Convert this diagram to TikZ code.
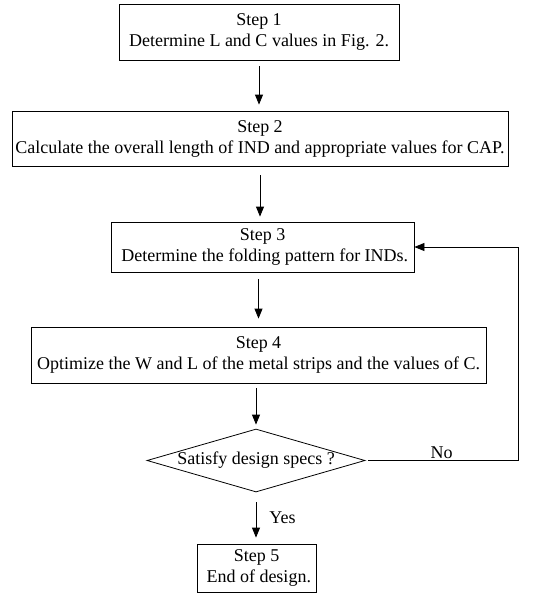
\documentclass[tikz,border=0pt]{standalone}
\usepackage{fontspec}
\setmainfont{Liberation Serif}
\usetikzlibrary{shapes.geometric,arrows.meta}

\begin{document}
\begin{tikzpicture}[x=1pt, y=-1pt,
		stepbox/.style={draw, line width=0.8pt, align=center, inner sep=0pt, font=\fontsize{18}{21}\selectfont},
		check/.style={draw, diamond, line width=0.8pt, aspect=3.4, inner sep=0pt, minimum width=218pt, minimum height=63pt, font=\fontsize{18}{21}\selectfont},
		flow/.style={-{Triangle[length=10pt,width=8pt]}, line width=0.8pt}]
			%%%%% START %%%%%
			
			\useasboundingbox (0, 0) rectangle (537, 594);
			
			\node[stepbox, minimum width=280pt, minimum height=56pt] (s1) at (259, 32) {Step 1\\Determine L and C values in Fig. 2.};
			\node[stepbox, minimum width=496pt, minimum height=55pt] (s2) at (260, 138.5) {Step 2\\Calculate the overall length of IND and appropriate values for CAP.};
			\node[stepbox, minimum width=303pt, minimum height=50pt] (s3) at (262.5, 247) {Step 3\\\ Determine the folding pattern for INDs.};
			\node[stepbox, minimum width=455pt, minimum height=56pt] (s4) at (258.5, 355) {Step 4\\Optimize the W and L of the metal strips and the values of C.};
			\node[check] (spec) at (256, 460.5) {Satisfy design specs ?};
			\node[stepbox, minimum width=119pt, minimum height=48pt] (s5) at (256.5, 568) {Step 5\\\ End of design.};
			\coordinate (back) at (518, 462);
			
			\draw[flow, shorten <=6pt, shorten >=6pt] (s1.south) -- (s1.south |- s2.north);
			\draw[flow, shorten <=9pt, shorten >=5pt] (s2.south) -- (s2.south |- s3.north);
			\draw[flow, shorten <=7pt, shorten >=8pt] (s3.south -| s4.north) -- (s4.north);
			\draw[flow, shorten <=5pt, shorten >=4pt] (s4.south -| spec.north) -- (spec.north);
			\draw[flow, shorten <=10pt, shorten >=6pt] (spec.south) -- (spec.south |- s5.north)
				node[midway, right=13pt, inner sep=0pt, font=\fontsize{18}{21}\selectfont] {Yes};
			
			\draw[line width=0.8pt, shorten <=3pt] (spec.east) -- (spec.east -| back)
				node[midway, above, inner sep=1pt, font=\fontsize{18}{21}\selectfont] {No};
			\draw[flow] (spec.east -| back) -- (back |- s3.east) -- (s3.east);
			
			%%%%% END %%%%%
\end{tikzpicture}
\end{document}
